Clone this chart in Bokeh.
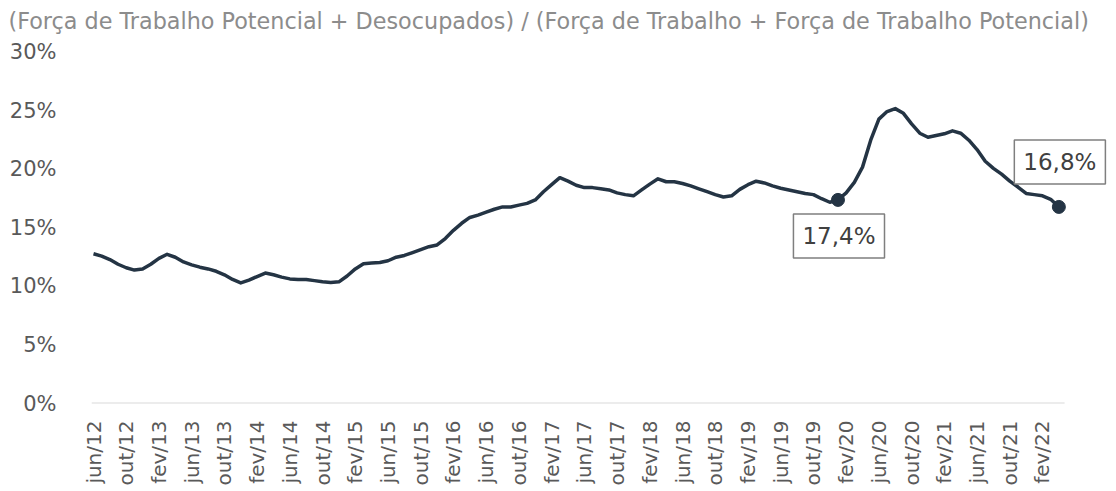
from bokeh.plotting import figure
from bokeh.models import ColumnDataSource, FixedTicker, Label, Range1d, PrintfTickFormatter
from bokeh.embed import file_html
from bokeh.resources import INLINE

# ---- data -------------------------------------------------------------
MESES = ["jan", "fev", "mar", "abr", "mai", "jun", "jul", "ago", "set", "out", "nov", "dez"]
ANO_INICIAL = 2012
MES_INICIAL = 6  # jun/12

taxa = [
    12.8, 12.6, 12.3, 11.9, 11.6, 11.4, 11.5, 11.9, 12.4, 12.75,
    12.5, 12.1, 11.85, 11.65, 11.5, 11.3, 11.0, 10.6, 10.3, 10.55,
    10.85, 11.15, 11.0, 10.8, 10.65, 10.6, 10.6, 10.5, 10.4, 10.35,
    10.4, 10.9, 11.5, 11.95, 12.0, 12.05, 12.2, 12.5, 12.65, 12.9,
    13.15, 13.4, 13.55, 14.1, 14.8, 15.4, 15.9, 16.1, 16.35, 16.6,
    16.8, 16.8, 16.95, 17.1, 17.4, 18.1, 18.7, 19.3, 19.0, 18.65,
    18.45, 18.45, 18.35, 18.25, 18.0, 17.85, 17.75, 18.25, 18.75, 19.2,
    18.95, 18.95, 18.8, 18.6, 18.35, 18.1, 17.85, 17.65, 17.75, 18.3,
    18.7, 19.0, 18.85, 18.6, 18.4, 18.25, 18.1, 17.95, 17.85, 17.5,
    17.2, 17.4, 18.0, 18.9, 20.2, 22.5, 24.3, 24.95, 25.2, 24.8,
    23.9, 23.1, 22.75, 22.9, 23.05, 23.3, 23.1, 22.5, 21.7, 20.7,
    20.1, 19.6, 19.0, 18.5, 17.95, 17.85, 17.75, 17.45, 16.8,
]
periodos = [
    f"{MESES[(MES_INICIAL - 1 + i) % 12]}/{(ANO_INICIAL + (MES_INICIAL - 1 + i) // 12) % 100:02d}"
    for i in range(len(taxa))
]
destaques = [91, len(taxa) - 1]          # jan/20 and last month
y_ticks = [0, 5, 10, 15, 20, 25, 30]
titulo = "(Força de Trabalho Potencial + Desocupados) / (Força de Trabalho + Força de Trabalho Potencial)"

# ---- figure ------------------------------------------------------------
FONT = "DejaVu Sans"
W, H = 1112, 488
LEFT, BOTTOM_Y = 91, 404
Y30 = 52                      # pixel row of the 30% tick
TOP = 36                      # frame top (a little above 30%)
PX_PER_MONTH = 8.181
PX_PER_PCT = (BOTTOM_Y - Y30) / 30
x0 = -(93 - LEFT) / PX_PER_MONTH
x1 = x0 + (W - LEFT) / PX_PER_MONTH
y_max = 30 + (Y30 - TOP) / PX_PER_PCT
eixo_fim = len(taxa) - 0.3

idx = list(range(len(taxa)))
src = ColumnDataSource(dict(x=idx, y=taxa))
dots = ColumnDataSource(dict(x=destaques, y=[taxa[i] for i in destaques]))

p = figure(width=W, height=H, output_backend="svg", toolbar_location=None,
           x_range=Range1d(x0, x1), y_range=Range1d(0, y_max),
           min_border_left=LEFT, min_border_right=0, min_border_top=TOP,
           min_border_bottom=H - BOTTOM_Y)
p.outline_line_color = None
p.background_fill_color = "white"
p.border_fill_color = "white"
p.xgrid.visible = False
p.ygrid.visible = False

p.title.text = titulo
p.title.text_font = FONT
p.title.text_font_size = "22.3px"
p.title.text_font_style = "normal"
p.title.text_color = "#8c8c8c"
p.title.align = "left"
p.title.offset = -LEFT + 8
p.title.standoff = 5

# baseline (0%)
p.segment(x0=[x0], y0=[0], x1=[eixo_fim], y1=[0], line_color="#d9d9d9", line_width=2)

p.line("x", "y", source=src, line_width=3.5, line_color="#243444", line_join="round")
p.scatter("x", "y", source=dots, size=13, fill_color="#243444", line_color="#243444")

# y axis
ya = p.yaxis[0]
ya.ticker = FixedTicker(ticks=y_ticks)
ya.formatter = PrintfTickFormatter(format="%d%%")
ya.axis_line_color = None
ya.major_tick_line_color = None
ya.minor_tick_line_color = None
ya.major_tick_out = 0
ya.major_tick_in = 0
ya.major_label_text_font = FONT
ya.major_label_text_font_size = "21px"
ya.major_label_text_color = "#595959"
ya.major_label_standoff = 35

# x axis
xa = p.xaxis[0]
xa.ticker = FixedTicker(ticks=list(range(0, len(taxa), 4)))
xa.major_label_overrides = {i: periodos[i] for i in range(0, len(taxa), 4)}
xa.major_label_orientation = 3.14159265 / 2
xa.axis_line_color = None
xa.major_tick_line_color = None
xa.minor_tick_line_color = None
xa.major_tick_out = 0
xa.major_tick_in = 0
xa.major_label_text_font = FONT
xa.major_label_text_font_size = "20px"
xa.major_label_text_color = "#595959"
xa.major_label_standoff = 17

def rotulo(v):
    return f"{v:.1f}".replace(".", ",") + "%"

offsets = {destaques[0]: (1, -36), destaques[1]: (1, 45)}
for i in destaques:
    dx, dy = offsets[i]
    p.add_layout(Label(x=i, y=taxa[i], text=rotulo(taxa[i]), x_offset=dx, y_offset=dy,
                       text_align="center", text_baseline="middle",
                       text_font=FONT, text_font_size="23px", text_color="#404040",
                       border_line_color="#7f7f7f", border_line_width=1.5,
                       background_fill_color="white", padding=9))

open("out.html", "w").write(file_html(p, INLINE))
